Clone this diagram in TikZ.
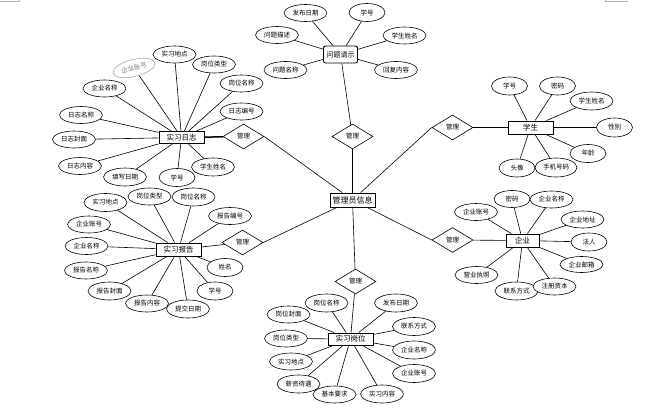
\documentclass[tikz,border=0pt]{standalone}
\usepackage{fontspec}
\setmainfont{Noto Sans CJK SC}
\usetikzlibrary{shapes.geometric}
\begin{document}
\begin{tikzpicture}[x=1pt,y=-1pt,
 attr/.style={ellipse, draw, fill=white, minimum width=43pt, minimum height=17pt, inner sep=0pt, font=\fontsize{6.5}{7}\selectfont, line width=0.6pt},
 sattr/.style={attr, minimum width=36pt, minimum height=18pt},
 gattr/.style={attr, draw=gray!70, text=gray},
 ent/.style={rectangle, draw, fill=white, line width=0.9pt, minimum width=45pt, minimum height=13pt, inner sep=0pt, font=\fontsize{7.5}{8}\selectfont},
 rel/.style={diamond, draw, fill=white, aspect=1.64, minimum width=41pt, minimum height=25pt, inner sep=0pt, font=\fontsize{6.5}{7}\selectfont, line width=0.6pt},
 conn/.style={line width=0.6pt},
 cornermark/.style={gray!60, line width=0.6pt}]
\useasboundingbox (0,0) rectangle (658,412);

% corner marks
\coordinate (c1a) at (0,1.3); \coordinate (c1b) at (19,1.3); \coordinate (c1c) at (19,0);
\coordinate (c2a) at (628,1.3); \coordinate (c2b) at (605,1.3); \coordinate (c2c) at (605,0);
\draw[cornermark] (c1a) -- (c1b) -- (c1c);
\draw[cornermark] (c2a) -- (c2b) -- (c2c);

% center
\node[ent, minimum height=14pt, font=\fontsize{8}{8}\selectfont] (admin) at (352.5,200) {管理员信息};
\node[rel] (rT) at (352.5,136.5) {管理};
\node[rel] (rR1) at (452.5,127.5) {管理};
\node[rel] (rR2) at (452.5,240) {管理};
\node[rel] (rB) at (355.5,281.5) {管理};
\node[rel] (rL1) at (243.5,136.5) {管理};
\node[rel] (rL2) at (242.5,242.5) {管理};

% entities
\node[ent, rounded corners=2pt, minimum width=34pt, minimum height=17pt, font=\fontsize{7}{7}\selectfont] (wt) at (340.5,54.5) {问题请示};
\node[ent, minimum height=12pt] (rz) at (181.5,137.5) {实习日志};
\node[ent] (bg) at (178.5,249.5) {实习报告};
\node[ent, minimum height=12pt] (gw) at (350.5,339) {实习岗位};
\node[ent] (xs) at (530.5,127.5) {学生};
\node[ent, minimum width=33pt] (qy) at (522.5,240.5) {企业};

% admin links
\draw[conn] (admin) -- (rT);
\draw[conn] (admin) -- (rR1.west);
\draw[conn] (admin) -- (rR2.west);
\draw[conn] (admin) -- (rB);
\draw[conn] (admin) -- (rL1.east);
\draw[conn] (admin) -- (rL2.east);
\draw[conn] (wt) -- (rT);
\draw[conn] (rR1) -- (xs);
\draw[conn] (rR2) -- (qy);
\draw[conn] (rB) -- (gw);
\draw[line width=1.5pt] (rz) -- (rL1);
\draw[conn] (bg) -- (rL2);

% 问题请示 attributes
\node[attr] (w1) at (305.5,13) {发布日期};
\node[sattr] (w2) at (367,12.5) {学号};
\node[attr] (w3) at (277,35) {问题描述};
\node[attr] (w4) at (404.5,35.5) {学生姓名};
\node[attr] (w5) at (285.5,70) {问题名称};
\node[attr] (w6) at (396,70) {回复内容};
\foreach \n in {w1,w2,w3,w4,w5,w6} \draw[conn] (wt) -- (\n);

% 实习日志 attributes
\node[gattr, rotate=14] (z1) at (134,68) {企业账号};
\node[attr] (z2) at (174.5,54.5) {实习地点};
\node[attr] (z3) at (214,64.5) {岗位类型};
\node[attr] (z4) at (241.5,83.5) {岗位名称};
\node[attr] (z5) at (104.5,88.5) {企业名称};
\node[attr] (z6) at (241.5,111.5) {日志编号};
\node[attr] (z7) at (81,115) {日志名称};
\node[attr] (z8) at (74,139.5) {日志封面};
\node[attr] (z9) at (80,166) {日志内容};
\node[attr, minimum height=18pt] (z10) at (125,177) {填写日期};
\node[sattr] (z11) at (177,177.5) {学号};
\node[attr, minimum height=18pt] (z12) at (213,167) {学生姓名};
\foreach \n in {z1,z2,z3,z4,z5,z6,z7,z8,z9,z10,z11,z12} \draw[conn] (rz) -- (\n);

% 实习报告 attributes
\node[attr, minimum height=18pt] (b1) at (105.5,202.5) {实习地点};
\node[attr] (b2) at (149.5,196.5) {岗位类型};
\node[attr, minimum height=18pt] (b3) at (193.5,197) {岗位名称};
\node[attr] (b4) at (230,216) {报告编号};
\node[attr] (b5) at (89,224.5) {企业账号};
\node[attr] (b6) at (86.5,246) {企业名称};
\node[attr] (b7) at (86,270.5) {报告名称};
\node[sattr] (b8) at (225,267.5) {姓名};
\node[attr, minimum height=18pt] (b9) at (109.5,291) {报告封面};
\node[sattr] (b10) at (215,291) {学号};
\node[attr] (b11) at (147,303.5) {报告内容};
\node[attr, minimum height=18pt] (b12) at (188,309) {提交日期};
\foreach \n in {b1,b2,b3,b4,b5,b6,b7,b8,b9,b10,b11,b12} \draw[conn] (bg) -- (\n);

% 实习岗位 attributes
\node[attr, minimum height=18pt] (g1) at (326.5,303) {岗位名称};
\node[attr, minimum height=18pt] (g2) at (396,303) {发布日期};
\node[attr] (g3) at (288.5,314.5) {岗位封面};
\node[attr, minimum height=18pt] (g4) at (414,326.5) {联系方式};
\node[attr] (g5) at (286,338.5) {岗位类型};
\node[attr, minimum height=18pt] (g6) at (414,350) {企业名称};
\node[attr] (g7) at (291,361.5) {实习地点};
\node[attr, minimum height=18pt] (g8) at (414,373.5) {企业账号};
\node[attr, minimum height=18pt] (g9) at (298.5,384) {薪资待遇};
\node[attr] (g10) at (334.5,394.5) {基本要求};
\node[attr, minimum height=18pt] (g11) at (382,394) {实习内容};
\foreach \n in {g1,g2,g3,g4,g5,g6,g7,g8,g9,g10,g11} \draw[conn] (gw) -- (\n);

% 学生 attributes
\node[sattr] (s1) at (509.5,86) {学号};
\node[sattr] (s2) at (557.5,86) {密码};
\node[attr, minimum height=18pt] (s3) at (591.5,101) {学生姓名};
\node[sattr, minimum height=19pt] (s4) at (614.5,127.5) {性别};
\node[sattr] (s5) at (588,153.5) {年龄};
\node[sattr] (s6) at (517,168) {头像};
\node[attr, minimum width=42pt, minimum height=19pt] (s7) at (556,167.5) {手机号码};
\foreach \n in {s1,s2,s3,s4,s5,s6,s7} \draw[conn] (xs) -- (\n);

% 企业 attributes
\node[attr] (q1) at (476,212) {企业账号};
\node[sattr, minimum height=17pt] (q2) at (512,199) {密码};
\node[attr] (q3) at (551.5,199.5) {企业名称};
\node[attr] (q4) at (582.5,219.5) {企业地址};
\node[sattr] (q5) at (589,242) {法人};
\node[attr, minimum height=16pt] (q6) at (581.5,264.5) {企业邮箱};
\node[attr] (q7) at (476.5,275) {营业执照};
\node[attr, minimum height=18pt] (q8) at (516.5,291) {联系方式};
\node[attr] (q9) at (554.5,286.5) {注册资本};
\foreach \n in {q1,q2,q3,q4,q5,q6,q7,q8,q9} \draw[conn] (qy) -- (\n);
\end{tikzpicture}
\end{document}
